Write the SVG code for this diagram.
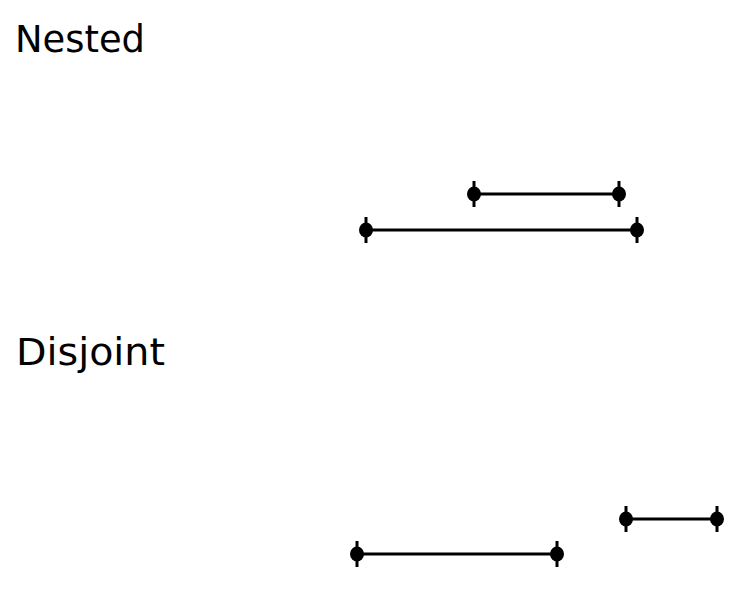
<svg xmlns="http://www.w3.org/2000/svg" width="747" height="592" viewBox="0 0 747 592">
<style>
.lbl{font-family:"DejaVu Sans","Liberation Sans",sans-serif;font-size:37px;fill:#000}
.seg{stroke:#000;stroke-width:3.2;fill:none}
.tick{stroke:#000;stroke-width:3}
</style>
<defs>
<g id="ep">
<line class="tick" x1="0" y1="-13" x2="0" y2="13"/>
<ellipse rx="7" ry="7.5" fill="#000"/>
</g>
</defs>
<rect width="747" height="592" fill="#fff"/>
<g id="label-nested"><text class="lbl" x="15" y="52" textLength="130" lengthAdjust="spacingAndGlyphs">Nested</text></g>
<g id="label-disjoint"><text class="lbl" x="16" y="365" textLength="149" lengthAdjust="spacingAndGlyphs">Disjoint</text></g>
<g id="connectors">
<line class="seg" x1="474" y1="194" x2="619" y2="194"/>
<line class="seg" x1="366" y1="230" x2="637" y2="230"/>
<line class="seg" x1="626" y1="519" x2="717" y2="519"/>
<line class="seg" x1="357" y1="554" x2="557" y2="554"/>
</g>
<g id="nested-inner"><use href="#ep" x="474" y="194"/><use href="#ep" x="619" y="194"/></g>
<g id="nested-outer"><use href="#ep" x="366" y="230"/><use href="#ep" x="637" y="230"/></g>
<g id="disjoint-right"><use href="#ep" x="626" y="519"/><use href="#ep" x="717" y="519"/></g>
<g id="disjoint-left"><use href="#ep" x="357" y="554"/><use href="#ep" x="557" y="554"/></g>
</svg>
